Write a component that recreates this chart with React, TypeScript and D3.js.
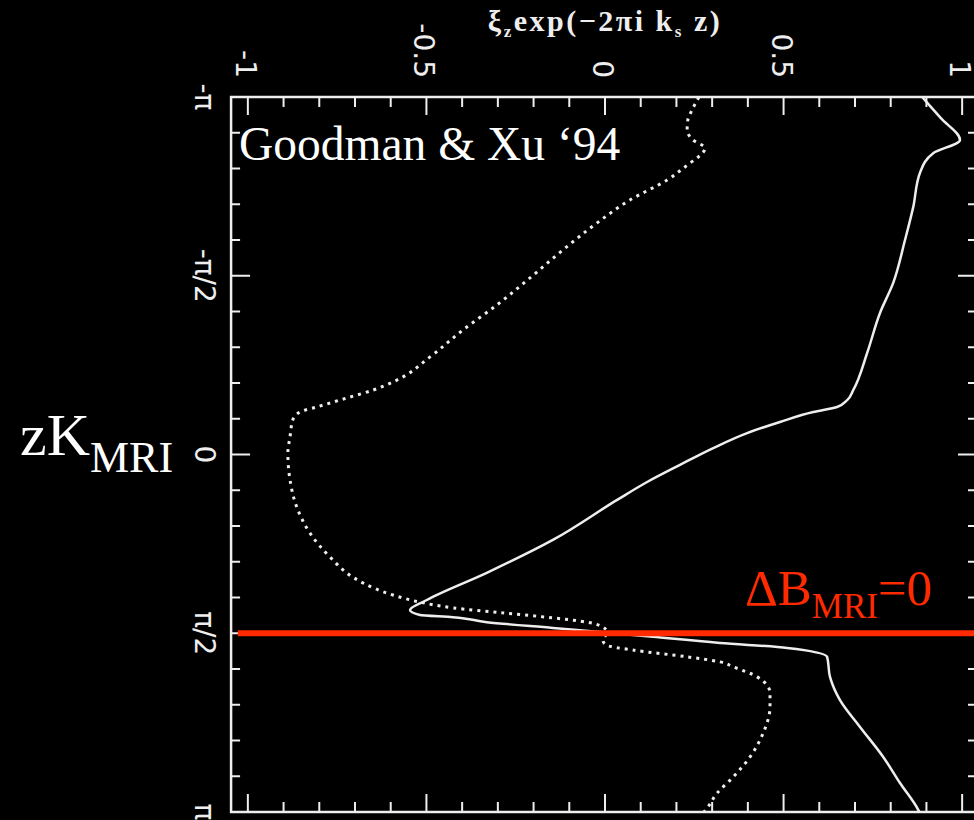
import React, { useEffect, useRef } from 'react';
import * as d3 from 'd3';

// solid curve: xi value vs z (z in units of pi)
const solidXi = [0.888, 0.941, 0.994, 0.919, 0.882, 0.863, 0.840, 0.807, 0.770, 0.734, 0.695, 0.678, 0.650, 0.583, 0.490, 0.398, 0.303, 0.210, 0.118, 0.034, -0.146, -0.331, -0.499, -0.546, -0.518, -0.426, -0.331, -0.146, -0.006, 0.134, 0.322, 0.510, 0.622, 0.630, 0.658, 0.714, 0.779, 0.826, 0.877, 0.880];
const solidZ = [-1.000, -0.940, -0.880, -0.843, -0.788, -0.692, -0.600, -0.480, -0.396, -0.284, -0.180, -0.152, -0.133, -0.119, -0.091, -0.060, -0.018, 0.029, 0.077, 0.127, 0.239, 0.331, 0.407, 0.435, 0.449, 0.455, 0.469, 0.485, 0.497, 0.510, 0.527, 0.541, 0.566, 0.622, 0.687, 0.762, 0.846, 0.919, 0.994, 1.000];

// dotted curve
const dottedXi = [0.263, 0.244, 0.232, 0.230, 0.246, 0.280, 0.261, 0.238, 0.174, 0.070, -0.022, -0.118, -0.210, -0.303, -0.398, -0.490, -0.583, -0.650, -0.723, -0.807, -0.854, -0.874, -0.882, -0.888, -0.882, -0.863, -0.826, -0.770, -0.706, -0.678, -0.594, -0.518, -0.426, -0.286, -0.146, -0.050, -0.006, 0.006, -0.006, 0.006, 0.078, 0.230, 0.322, 0.359, 0.426, 0.462, 0.462, 0.443, 0.406, 0.359, 0.314, 0.286, 0.277];
const dottedZ = [-1.000, -0.964, -0.936, -0.908, -0.880, -0.857, -0.832, -0.815, -0.768, -0.712, -0.648, -0.572, -0.494, -0.418, -0.348, -0.273, -0.208, -0.180, -0.158, -0.133, -0.119, -0.097, -0.049, -0.004, 0.071, 0.147, 0.220, 0.287, 0.343, 0.359, 0.393, 0.413, 0.429, 0.443, 0.457, 0.469, 0.483, 0.497, 0.520, 0.534, 0.547, 0.566, 0.580, 0.594, 0.622, 0.667, 0.706, 0.779, 0.846, 0.902, 0.947, 0.989, 1.000];

const xMajor = [-1, -0.5, 0, 0.5, 1];
const xTickLabels = ['-1', '-0.5', '0', '0.5', '1'];
const zMajor = [-1, -0.5, 0, 0.5, 1];
const zTickLabels = ['-\u03c0', '-\u03c0/2', '0', '\u03c0/2', '\u03c0'];
const markerZ = 0.5; // Delta B_MRI = 0 line

const W = 974, H = 820;
const left = 230, right = 980, top = 97, bottom = 812;
const frameRight = 977;
const fg = '#eeeeee';
const red = '#ff2a00';

const App = () => {
  const ref = useRef<SVGSVGElement>(null);

  useEffect(() => {
    document.body.style.margin = '0';
    document.body.style.background = '#000';
    const svg = d3.select(ref.current);
    svg.selectAll('*').remove();

    const x = d3.scaleLinear().domain([-1.05, 1.05]).range([left, right]);
    const y = d3.scaleLinear().domain([-Math.PI, Math.PI]).range([top, bottom]);

    svg.append('rect').attr('width', W).attr('height', H).attr('fill', '#000');

    const frameLeft = x(-1.047);
    const g = svg.append('g');

    // frame
    g.append('path')
      .attr('d', `M${frameRight},${top}H${frameLeft}V${bottom}H${frameRight}Z`)
      .attr('fill', 'none').attr('stroke', fg).attr('stroke-width', 2.5);

    const xMinor = d3.range(-10, 11).map(i => i / 10);
    const zMinor = d3.range(-10, 11).map(i => i / 10);
    const isMajor = (v: number) => Math.abs(v * 2 - Math.round(v * 2)) < 1e-6;

    // top + bottom ticks
    xMinor.forEach(v => {
      const len = isMajor(v) ? 18 : 10;
      g.append('line').attr('x1', x(v)).attr('x2', x(v)).attr('y1', top).attr('y2', top + len)
        .attr('stroke', fg).attr('stroke-width', 2);
      g.append('line').attr('x1', x(v)).attr('x2', x(v)).attr('y1', bottom).attr('y2', bottom - len)
        .attr('stroke', fg).attr('stroke-width', 2);
    });
    // left + right ticks
    zMinor.forEach(v => {
      const len = isMajor(v) ? 19 : 9;
      const yy = y(v * Math.PI);
      g.append('line').attr('x1', frameLeft).attr('x2', frameLeft + len).attr('y1', yy).attr('y2', yy)
        .attr('stroke', fg).attr('stroke-width', 2);
      g.append('line').attr('x1', frameRight).attr('x2', frameRight - len).attr('y1', yy).attr('y2', yy)
        .attr('stroke', fg).attr('stroke-width', 2);
    });

    // tick labels (rotated like the original)
    xMajor.forEach((v, i) => {
      const tx = x(v) - 12, ty = 78;
      svg.append('text')
        .attr('transform', `translate(${tx},${ty}) rotate(90)`)
        .attr('text-anchor', 'end')
        .attr('font-family', 'DejaVu Sans')
        .attr('font-size', 28)
        .attr('fill', fg)
        .text(xTickLabels[i]);
    });
    zMajor.forEach((v, i) => {
      const tx = 195, ty = y(v * Math.PI);
      svg.append('text')
        .attr('transform', `translate(${tx},${ty}) rotate(90)`)
        .attr('text-anchor', 'middle')
        .attr('font-family', 'DejaVu Sans')
        .attr('font-size', 28)
        .attr('fill', fg)
        .text(zTickLabels[i]);
    });

    // top axis title
    const title = svg.append('text')
      .attr('x', x(0)).attr('y', 31)
      .attr('text-anchor', 'middle')
      .attr('font-family', 'Liberation Serif')
      .attr('font-weight', 'bold')
      .attr('font-size', 30)
      .attr('letter-spacing', 2.5)
      .attr('fill', fg);
    title.append('tspan').text('\u03be');
    title.append('tspan').attr('font-size', 17).attr('dy', 6).text('z');
    title.append('tspan').attr('dy', -6).text('exp(\u22122\u03c0i k');
    title.append('tspan').attr('font-size', 17).attr('dy', 6).text('s');
    title.append('tspan').attr('dy', -6).text(' z)');

    // curves
    const line = d3.line<[number, number]>()
      .x(d => x(d[0]))
      .y(d => y(d[1] * Math.PI))
      .curve(d3.curveMonotoneY);

    const solid = solidXi.map((v, i) => [v, solidZ[i]] as [number, number]);
    const dotted = dottedXi.map((v, i) => [v, dottedZ[i]] as [number, number]);

    g.append('path').attr('d', line(dotted))
      .attr('fill', 'none').attr('stroke', fg).attr('stroke-width', 3)
      .attr('stroke-dasharray', '3 5');
    g.append('path').attr('d', line(solid))
      .attr('fill', 'none').attr('stroke', fg).attr('stroke-width', 2.5);

    // red marker line
    svg.append('line')
      .attr('x1', x(-1.028)).attr('x2', W)
      .attr('y1', y(markerZ * Math.PI)).attr('y2', y(markerZ * Math.PI))
      .attr('stroke', red).attr('stroke-width', 6);

    const redLabel = svg.append('text')
      .attr('x', 745).attr('y', 605)
      .attr('font-family', 'Liberation Serif')
      .attr('font-size', 51)
      .attr('fill', red);
    redLabel.append('tspan').text('\u0394B');
    redLabel.append('tspan').attr('font-size', 35).attr('dy', 13).text('MRI');
    redLabel.append('tspan').attr('dy', -13).text('=0');

    // annotations
    svg.append('text')
      .attr('x', 239).attr('y', 160)
      .attr('font-family', 'Liberation Serif')
      .attr('font-size', 47.5)
      .attr('fill', '#fff')
      .text('Goodman & Xu \u201894');

    const zLabel = svg.append('text')
      .attr('x', 20).attr('y', 455)
      .attr('font-family', 'Liberation Serif')
      .attr('font-size', 60)
      .attr('fill', '#fff');
    zLabel.append('tspan').text('zK');
    zLabel.append('tspan').attr('font-size', 44).attr('dy', 17).text('MRI');
  }, []);

  return <svg ref={ref} width={W} height={H} style={{ display: 'block' }}></svg>;
};

export default App;
